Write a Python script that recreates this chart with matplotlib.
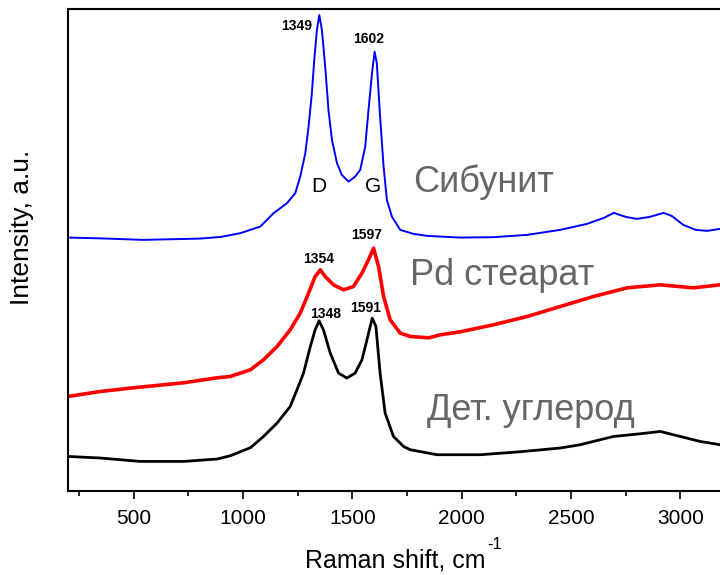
import matplotlib
matplotlib.use("Agg")
import matplotlib.pyplot as plt
from matplotlib.ticker import MultipleLocator

plt.rcParams['font.family'] = ['Liberation Sans', 'DejaVu Sans']

# Raman spectra (shift in cm^-1, intensity in arbitrary units, curves offset)
sibunit_shift = [200, 350, 545, 805, 900, 988, 1079, 1140, 1201, 1239, 1262,
                 1285, 1300, 1315, 1326, 1338, 1349, 1361, 1376, 1391, 1407,
                 1430, 1452, 1483, 1513, 1536, 1559, 1574, 1590, 1602, 1612,
                 1627, 1643, 1658, 1681, 1719, 1780, 1842, 1993, 2145, 2299,
                 2450, 2573, 2650, 2695, 2750, 2801, 2860, 2923, 2960, 3013,
                 3070, 3122, 3181]
sibunit_int = [253.3, 252.5, 251, 252.3, 254, 257.7, 264.3, 277.7, 287.7, 297.7,
               314.3, 337.7, 364.3, 397.7, 431, 461, 476, 461, 424.3, 381, 351,
               327.7, 316, 309.3, 314.3, 321, 344.3, 381, 417.7, 439.3, 427.7,
               374.3, 324.3, 291, 274.3, 261, 257, 255, 253.3, 253.7, 256,
               261, 267, 273, 278, 274, 272, 274, 278, 275, 266,
               261, 260, 262]

pd_shift = [200, 348, 500, 729, 882, 942, 1034, 1094, 1156, 1216, 1262, 1300,
            1330, 1354, 1376, 1414, 1460, 1505, 1544, 1574, 1597, 1620, 1643,
            1673, 1719, 1765, 1850, 1902, 1993, 2145, 2299, 2450, 2602, 2756,
            2908, 3059, 3181]
pd_int = [94.3, 99.3, 103, 108, 113, 114.3, 121, 131, 144.3, 161, 177.7, 197.7,
          214.3, 221, 214.3, 206, 201, 204.3, 217.7, 231, 242.7, 224.3, 194.3,
          171, 157.7, 154.3, 153, 156, 159, 166, 174.3, 184.3, 194.3, 203,
          206, 203, 206]

carbon_shift = [200, 348, 530, 729, 882, 942, 1034, 1094, 1156, 1216, 1247,
                1277, 1308, 1330, 1348, 1368, 1399, 1437, 1475, 1513, 1544,
                1567, 1591, 1608, 1627, 1650, 1688, 1734, 1765, 1887, 2085,
                2268, 2450, 2542, 2633, 2695, 2818, 2908, 2999, 3090, 3181]
carbon_int = [34.3, 32.7, 29.3, 29.3, 31.7, 35, 43, 54.3, 67.7, 84.3, 101,
              117.7, 144.3, 161, 170, 161, 137.7, 117.7, 112.7, 117.7, 131,
              151, 172.7, 164.3, 117.7, 77.7, 54.3, 44.3, 41, 36, 36,
              39, 42.7, 46, 51, 54.3, 57, 59.3, 54.3, 49.3, 46]

# Peak positions labelled on each spectrum
sibunit_peaks = [1349, 1602]
pd_peaks = [1354, 1597]
carbon_peaks = [1348, 1591]

series_names = ["Сибунит", "Pd стеарат", "Дет. углерод"]

fig = plt.figure(figsize=(7.2, 5.75), dpi=100)
ax = fig.add_axes([0.0944, 0.1466, 1 - 0.0944, 0.9843 - 0.1466])

ax.plot(sibunit_shift, sibunit_int, color="#0000ff", lw=1.4)
ax.plot(pd_shift, pd_int, color="#ff0000", lw=2.6)
ax.plot(carbon_shift, carbon_int, color="#000000", lw=2.0)

ax.set_xlim(200, 3181)
ax.set_ylim(0, 482)

ax.xaxis.set_major_locator(MultipleLocator(500))
ax.xaxis.set_minor_locator(MultipleLocator(250))
ax.tick_params(axis="x", which="major", direction="out", length=6, width=1.2,
               labelsize=15, pad=7)
ax.tick_params(axis="x", which="minor", direction="out", length=3.5, width=1.2)
ax.set_yticks([])
for side in ("left", "bottom", "top"):
    ax.spines[side].set_linewidth(1.5)
ax.spines["right"].set_visible(False)

fig.text(22 / 720, 0.605, "Intensity, a.u.", fontsize=19, rotation=90,
         ha="center", va="center")
fig.text(0.4236, 0.0122, "Raman shift, cm", fontsize=18, ha="left", va="baseline")
fig.text(0.677, 0.046, "-1", fontsize=12, ha="left", va="baseline")

# peak position labels
peak_label_pos = [
    (sibunit_peaks[0], 1247, 461), (sibunit_peaks[1], 1574, 447.7),
    (pd_peaks[0], 1345, 227.7), (pd_peaks[1], 1567, 252),
    (carbon_peaks[0], 1376, 173.3), (carbon_peaks[1], 1562, 179.3),
]
for value, x, y in peak_label_pos:
    ax.text(x, y, str(value), fontsize=10, fontweight="bold",
            ha="center", va="baseline")

ax.text(1345, 299, "D", fontsize=15, ha="center", va="baseline")
ax.text(1597, 299, "G", fontsize=15, ha="center", va="baseline")

gray = "#666666"
ax.text(1778, 299, series_names[0], fontsize=26, color=gray, ha="left", va="baseline")
ax.text(1765, 206, series_names[1], fontsize=26, color=gray, ha="left", va="baseline")
ax.text(1841, 71, series_names[2], fontsize=26, color=gray, ha="left", va="baseline")

fig.savefig("out.png", dpi=100)
